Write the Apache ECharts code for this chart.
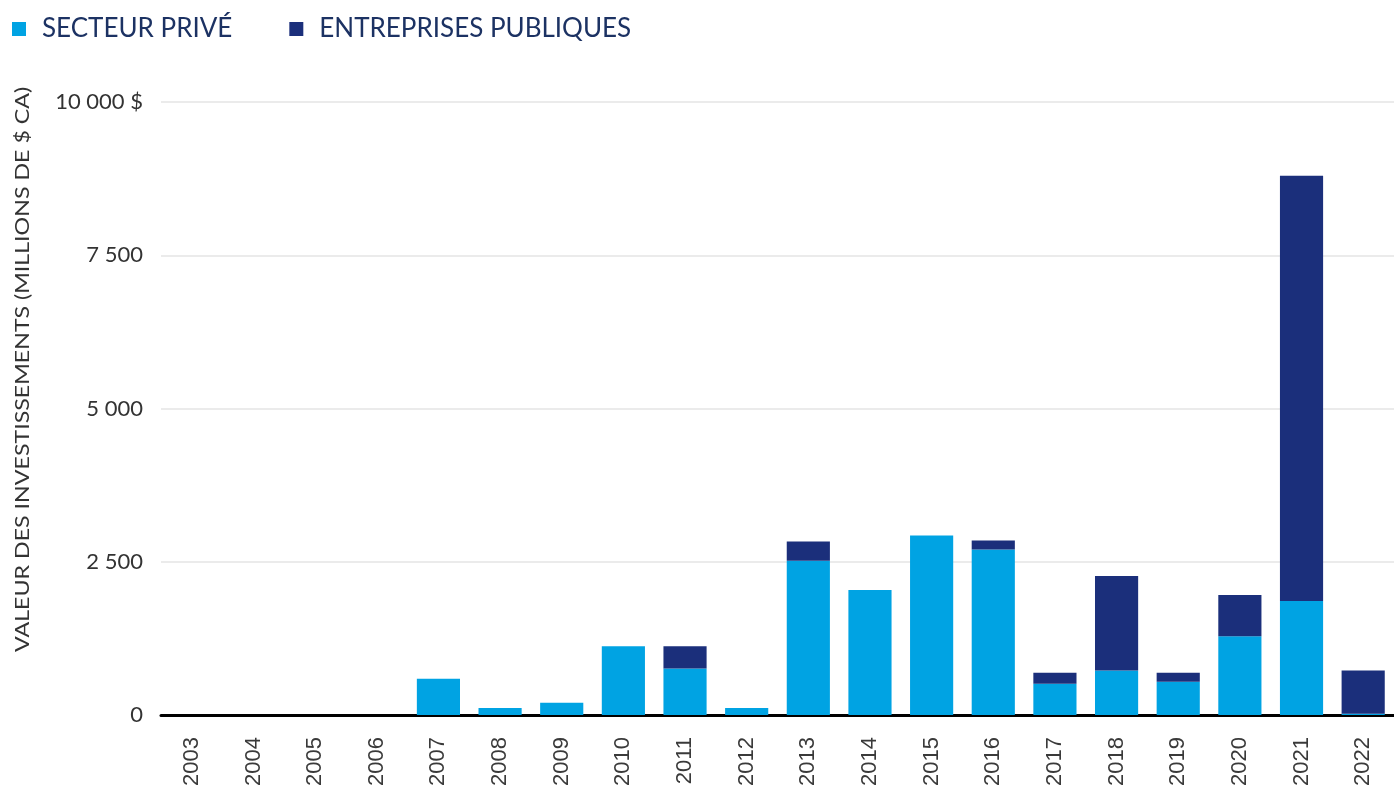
<!DOCTYPE html>
<html>
<head>
<meta charset="utf-8">
<script src="https://cdn.jsdelivr.net/npm/echarts@6/dist/echarts.min.js"></script>
<style>
html,body{margin:0;padding:0;background:#fff;}
#chart{width:1394px;height:790px;}
</style>
</head>
<body>
<div id="chart"></div>
<script>
const years = ['2003','2004','2005','2006','2007','2008','2009','2010','2011','2012','2013','2014','2015','2016','2017','2018','2019','2020','2021','2022'];
const secteurPrive = [0,0,0,0,590,115,200,1120,760,115,2515,2040,2930,2700,510,724,543,1283,1858,20];
const entreprisesPubliques = [0,0,0,0,0,0,0,0,360,0,315,0,0,145,180,1545,147,674,6940,704];
const yTicks = [0,2500,5000,7500,10000];
const seriesNames = ['SECTEUR PRIVÉ','ENTREPRISES PUBLIQUES'];
const yAxisTitle = 'VALEUR DES INVESTISSEMENTS (MILLIONS DE $ CA)';

function fmt(v){
  const s = String(Math.round(v)).replace(/\B(?=(\d{3})+(?!\d))/g,' ');
  return v === 10000 ? s + ' $' : s;
}

const chart = echarts.init(document.getElementById('chart'));
chart.setOption({
  animation:false,
  legend:{
    left:12, top:16, padding:0,
    icon:'rect', itemWidth:14, itemHeight:14, itemGap:57,
    textStyle:{fontFamily:'Lato', fontSize:26, color:'#1c3263', padding:[0,0,0,11]},
    data:seriesNames
  },
  grid:{left:161, top:102, width:1239, bottom:75},
  xAxis:{
    type:'category', data:years,
    axisTick:{show:false},
    axisLine:{lineStyle:{color:'#000', width:3}},
    axisLabel:{rotate:90, interval:0, margin:22, fontFamily:'Liberation Sans', fontSize:22, color:'#3a3a3a'}
  },
  yAxis:{
    type:'value', min:yTicks[0], max:yTicks[yTicks.length-1], interval:2500,
    axisLine:{show:false}, axisTick:{show:false},
    splitLine:{lineStyle:{color:'#ebebeb', width:2}},
    axisLabel:{margin:18, fontFamily:'Lato', fontSize:22, color:'#333', formatter:fmt}
  },
  graphic:[{
    type:'text', x:13, y:652, rotation:Math.PI/2, scaleX:1.16,
    style:{text:yAxisTitle, fontFamily:'Lato', fontSize:20, fill:'#333', align:'left', verticalAlign:'top'}
  }],
  series:[
    {name:seriesNames[0], type:'bar', stack:'t', barWidth:'70%', data:secteurPrive, itemStyle:{color:'#00a3e3'}},
    {name:seriesNames[1], type:'bar', stack:'t', barWidth:'70%', data:entreprisesPubliques, itemStyle:{color:'#1b2f7b'}}
  ]
});
</script>
</body>
</html>
